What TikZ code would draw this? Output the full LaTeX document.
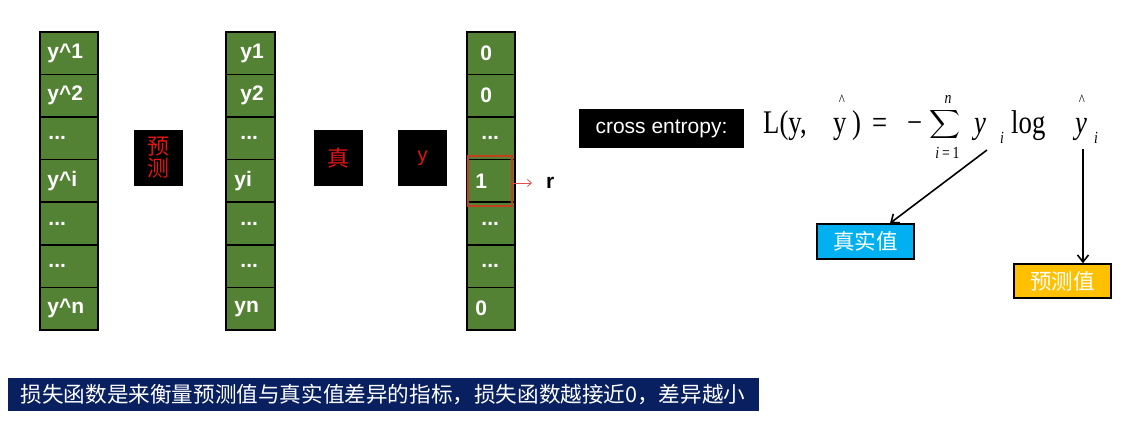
\documentclass[tikz,border=0pt]{standalone}
\usepackage{fontspec}
\usepackage{graphicx}
\usetikzlibrary{arrows.meta}
\newfontfamily\arialf{Liberation Sans}
\newfontfamily\timesf[FakeStretch=0.81]{Liberation Serif}
\newfontfamily\cjkf{Noto Sans CJK SC}
\definecolor{cellgreen}{RGB}{84,130,53}
\definecolor{labred}{RGB}{225,20,20}
\definecolor{hlred}{RGB}{192,64,32}
\definecolor{arrred}{RGB}{224,80,80}
\definecolor{skyb}{RGB}{0,176,240}
\definecolor{goldb}{RGB}{255,192,0}
\definecolor{navyb}{RGB}{8,32,96}
\newcommand\tdots{...}
\newcommand\hatc{\textasciicircum}
\begin{document}
\begin{tikzpicture}[x=1pt,y=-1pt,
  cell/.style={draw=black, line width=1.5pt, fill=cellgreen, inner sep=0pt, minimum height=42.6pt},
  celltext/.style={anchor=west, inner sep=0pt, text=white, font=\arialf\bfseries\fontsize{21}{21}\selectfont},
  blackbox/.style={fill=black, inner sep=0pt, minimum width=49pt, minimum height=56pt, text=labred, align=center},
  fm/.style={anchor=base west, inner sep=0pt, font=\timesf\fontsize{33}{33}\selectfont},
  fs/.style={anchor=base, inner sep=0pt, font=\timesf\fontsize{17}{17}\selectfont},
  fh/.style={anchor=base, inner sep=0pt, font=\timesf\fontsize{16}{16}\selectfont},
  blackarrow/.style={draw=black, line width=1.6pt, -{Straight Barb[length=7pt,width=11pt]}},
  tagbox/.style={draw=black, line width=1.5pt, inner sep=0pt, minimum width=97pt, text=white, font=\cjkf\fontsize{21.5}{22}\selectfont}]
\useasboundingbox (0,0) rectangle (1142,426);
\fill[white] (0,0) rectangle (1142,426);

% column 1: predictions
\foreach \k/\t/\dx in {1/y\hatc 1/8, 2/y\hatc 2/8, 3/\tdots/9, 4/y\hatc i/8, 5/\tdots/9, 6/\tdots/9, 7/y\hatc n/8} {
  \node[cell, minimum width=58pt] (a\k) at (69, {31.8+(\k-0.5)*42.6}) {};
  \node[celltext] (ta\k) at ([xshift=\dx pt]a\k.west) {\t};
}
% column 2: true labels
\foreach \k/\t/\dx in {1/y1/15, 2/y2/15, 3/\tdots/15, 4/yi/9, 5/\tdots/15, 6/\tdots/15, 7/yn/9} {
  \node[cell, minimum width=49pt] (b\k) at (250.5, {31.8+(\k-0.5)*42.6}) {};
  \node[celltext] (tb\k) at ([xshift=\dx pt]b\k.west) {\t};
}
% column 3: one-hot
\foreach \k/\t/\dx in {1/0/14, 2/0/14, 3/\tdots/15, 4/1/9, 5/\tdots/15, 6/\tdots/15, 7/0/9} {
  \node[cell, minimum width=48pt] (c\k) at (491, {31.8+(\k-0.5)*42.6}) {};
  \node[celltext] (tc\k) at ([xshift=\dx pt]c\k.west) {\t};
}

% black labels
\node[blackbox, font=\cjkf\fontsize{22}{23}\selectfont] (pre) at (158.7,158) {预\\[-1pt]测};
\node[blackbox, font=\cjkf\fontsize{22}{23}\selectfont] (zhen) at (338.7,158) {真};
\node[blackbox, font=\arialf\fontsize{20}{20}\selectfont] (ylab) at (422.5,158) {y};

% highlight
\node[draw=hlred, line width=2pt, minimum width=44pt, minimum height=50pt, inner sep=0pt] (hl) at (490,181) {};
\node[anchor=west, inner sep=0pt, font=\arialf\bfseries\fontsize{21}{21}\selectfont] (r) at (546,183) {r};
\draw[arrred, line width=0.8pt, -{Straight Barb[length=4pt,width=7pt]}, shorten >=14pt] (hl.east |- r.west) -- (r.west);

% cross entropy
\node[fill=black, minimum width=165pt, minimum height=39pt, inner sep=0pt, text=white, font=\arialf\fontsize{21}{21}\selectfont] (ce) at (661.5,128.7) {cross entropy:};

% formula
\node[fm] (f1) at (763,133) {L(y,};
\node[fh] (f2) at (842,105) {\hatc};
\node[fm] (f3) at (833,133) {y};
\node[fm] (f4) at (852,133) {)};
\node[fm] (f5) at (872,133) {=};
\node[fm] (f6) at (907,133) {−};
\node[inner sep=0pt] (f7) at (945,124) {\resizebox*{31pt}{32pt}{$\displaystyle\sum$}};
\node[fs] (f8) at (948,103) {\itshape n};
\node[fs] (f9) at (947.5,158) {\itshape i\upshape\,=\,1};
\node[fm] (f10) at (974,133) {\itshape y};
\node[fs] (f11) at (1002,143) {\itshape i};
\node[fm] (f12) at (1011,133) {log};
\node[fh] (f13) at (1082,105) {\hatc};
\node[fm] (f14) at (1075,133) {\itshape y};
\node[fs] (f15) at (1096,143) {\itshape i};

% tag boxes
\node[tagbox, fill=skyb, minimum height=35pt] (real) at (865.5,241.5) {真实值};
\node[tagbox, fill=goldb, minimum height=34pt] (pred) at (1062.5,281) {预测值};
\coordinate (s1) at (987,150);
\coordinate (s2) at (1083,149);
\draw[blackarrow] (s1) -- ([xshift=24.5pt]real.north);
\draw[blackarrow] (s2) -- (s2 |- pred.north);

% banner
\node[fill=navyb, minimum width=751pt, minimum height=33pt, inner sep=0pt, text=white, font=\cjkf\fontsize{21.6}{22}\selectfont] (banner) at (383,394.7) {损失函数是来衡量预测值与真实值差异的指标，损失函数越接近0，差异越小};
\end{tikzpicture}
\end{document}
